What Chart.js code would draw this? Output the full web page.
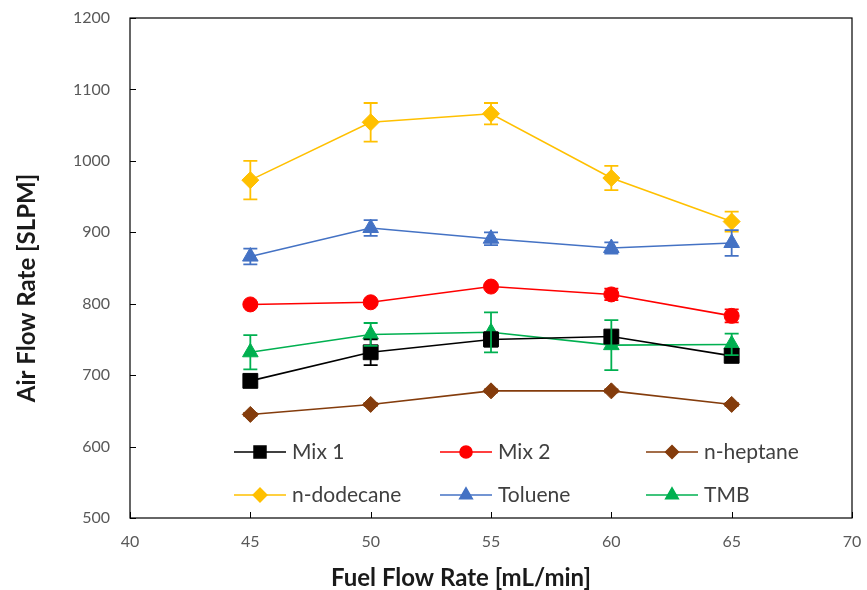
<!DOCTYPE html>
<html>
<head>
<meta charset="utf-8">
<script src="https://cdn.jsdelivr.net/npm/chart.js@4.4.1/dist/chart.umd.min.js"></script>
<style>
  html, body { margin: 0; padding: 0; background: #ffffff; }
  #wrap { width: 867px; height: 590px; }
</style>
</head>
<body>
<div id="wrap"><canvas id="chart" width="867" height="590"></canvas></div>
<script>
// Fuel flow rate (mL/min) and measured air flow rate (SLPM) per fuel
const fuelFlow = [45, 50, 55, 60, 65];

const mix1      = [692, 732, 750, 754, 727];
const mix2      = [799, 802, 824, 813, 783];
const heptane   = [645, 659, 678, 678, 659];
const dodecane  = [973, 1054, 1066, 976, 915];
const toluene   = [866, 906, 891, 878, 885];
const tmb       = [732, 757, 760, 742, 743];

// Error bar half-widths (SLPM)
const mix1Err     = [4, 18, 10, 6, 6];
const mix2Err     = [3, 3, 3, 8, 9];
const heptaneErr  = [2, 2, 2, 2, 2];
const dodecaneErr = [27, 27, 15, 17, 14];
const tolueneErr  = [11, 11, 9, 8, 18];
const tmbErr      = [24, 16, 28, 35, 15];

const seriesNames = ['Mix 1', 'Mix 2', 'n-heptane', 'n-dodecane', 'Toluene', 'TMB'];

const xTicks = [40, 45, 50, 55, 60, 65, 70];
const yTicks = [500, 600, 700, 800, 900, 1000, 1100, 1200];

const xTitle = 'Fuel Flow Rate [mL/min]';
const yTitle = 'Air Flow Rate [SLPM]';

const FONT = "Lato, 'Open Sans', sans-serif";

function pts(ys) {
  return fuelFlow.map((x, i) => ({ x: x, y: ys[i] }));
}

function series(label, ys, errs, color, style, radius) {
  return {
    label: label,
    data: pts(ys),
    errors: errs,
    borderColor: color,
    backgroundColor: color,
    pointBackgroundColor: color,
    pointBorderColor: color,
    pointStyle: style,
    pointRadius: radius,
    pointHoverRadius: radius,
    pointBorderWidth: 1,
    borderWidth: 1.6,
    tension: 0,
    fill: false
  };
}

const datasets = [
  series(seriesNames[0], mix1, mix1Err, '#000000', 'rect', 10.5),
  series(seriesNames[1], mix2, mix2Err, '#FF0000', 'circle', 7.5),
  series(seriesNames[2], heptane, heptaneErr, '#843C0C', 'rectRot', 8),
  series(seriesNames[3], dodecane, dodecaneErr, '#FFC000', 'rectRot', 8.5),
  series(seriesNames[4], toluene, tolueneErr, '#4472C4', 'triangle', 9),
  series(seriesNames[5], tmb, tmbErr, '#00B050', 'triangle', 9)
];

// Vertical error bars with caps, placed via the chart's own scales
const errorBars = {
  id: 'errorBars',
  afterDatasetsDraw(chart) {
    const ctx = chart.ctx;
    const xs = chart.scales.x, ys = chart.scales.y;
    chart.data.datasets.forEach(ds => {
      ctx.save();
      ctx.strokeStyle = ds.borderColor;
      ctx.lineWidth = 1.8;
      ds.data.forEach((p, i) => {
        const e = ds.errors[i];
        const px = xs.getPixelForValue(p.x);
        const top = ys.getPixelForValue(p.y + e);
        const bot = ys.getPixelForValue(p.y - e);
        ctx.beginPath();
        ctx.moveTo(px, top); ctx.lineTo(px, bot);
        ctx.moveTo(px - 7, top); ctx.lineTo(px + 7, top);
        ctx.moveTo(px - 7, bot); ctx.lineTo(px + 7, bot);
        ctx.stroke();
      });
      ctx.restore();
    });
  }
};

// Plot frame, inward tick marks and axis titles
const frame = {
  id: 'frame',
  afterDraw(chart) {
    const ctx = chart.ctx;
    const a = chart.chartArea;
    const xs = chart.scales.x, ys = chart.scales.y;
    ctx.save();
    ctx.strokeStyle = '#000000';
    ctx.lineWidth = 1.2;
    ctx.strokeRect(a.left, a.top, a.right - a.left, a.bottom - a.top);
    ctx.lineWidth = 1;
    ctx.beginPath();
    yTicks.forEach(v => {
      const py = Math.round(ys.getPixelForValue(v)) + 0.5;
      ctx.moveTo(a.left, py); ctx.lineTo(a.left + 6, py);
    });
    xTicks.forEach(v => {
      const px = Math.round(xs.getPixelForValue(v)) + 0.5;
      ctx.moveTo(px, a.bottom); ctx.lineTo(px, a.bottom - 6);
    });
    ctx.stroke();

    ctx.fillStyle = '#1a1a1a';
    ctx.font = "bold 24px " + FONT;
    ctx.textAlign = 'center';
    ctx.textBaseline = 'middle';
    ctx.fillText(xTitle, a.left + 331, a.bottom + 60);
    ctx.translate(27, a.top + 270);
    ctx.rotate(-Math.PI / 2);
    ctx.fillText(yTitle, 0, 0);
    ctx.restore();
  }
};

// Two-row legend drawn inside the plot area
const insideLegend = {
  id: 'insideLegend',
  afterDraw(chart) {
    const ctx = chart.ctx;
    const a = chart.chartArea;
    const cols = [a.left + 104, a.left + 310, a.left + 516];
    const rows = [a.bottom - 66, a.bottom - 23];
    ctx.save();
    chart.data.datasets.forEach((ds, i) => {
      const cx = cols[i % 3];
      const cy = rows[Math.floor(i / 3)];
      ctx.strokeStyle = ds.borderColor;
      ctx.lineWidth = 1.6;
      ctx.beginPath();
      ctx.moveTo(cx, cy); ctx.lineTo(cx + 52, cy);
      ctx.stroke();
      ctx.fillStyle = ds.backgroundColor;
      ctx.strokeStyle = ds.borderColor;
      Chart.helpers.drawPoint(ctx, {
        pointStyle: ds.pointStyle,
        radius: ds.pointRadius * 0.8,
        rotation: 0,
        borderWidth: 1
      }, cx + 26, cy);
      ctx.fillStyle = '#404040';
      ctx.font = "21px " + FONT;
      ctx.textBaseline = 'middle';
      ctx.textAlign = 'left';
      ctx.fillText(ds.label, cx + 58, cy);
    });
    ctx.restore();
  }
};

new Chart(document.getElementById('chart'), {
  type: 'line',
  data: { datasets: datasets },
  plugins: [errorBars, frame, insideLegend],
  options: {
    responsive: false,
    animation: false,
    layout: { padding: { top: 18, right: 15, left: 0, bottom: 0 } },
    plugins: {
      legend: { display: false },
      tooltip: { enabled: false }
    },
    scales: {
      x: {
        type: 'linear',
        min: 40, max: 70,
        afterBuildTicks(s) { s.ticks = xTicks.map(v => ({ value: v })); },
        afterFit(s) { s.height = 72; s.paddingLeft = 0; s.paddingRight = 0; },
        grid: { display: false, drawTicks: false },
        border: { display: false },
        ticks: {
          padding: 14,
          color: '#595959',
          font: { family: FONT, size: 16 },
          callback: v => String(v)
        },
        title: { display: false }
      },
      y: {
        type: 'linear',
        min: 500, max: 1200,
        afterBuildTicks(s) { s.ticks = yTicks.map(v => ({ value: v })); },
        afterFit(s) { s.width = 130; s.paddingTop = 0; s.paddingBottom = 0; },
        grid: { display: false, drawTicks: false },
        border: { display: false },
        ticks: {
          padding: 20,
          color: '#595959',
          font: { family: FONT, size: 16 },
          callback: v => String(v)
        },
        title: { display: false }
      }
    }
  }
});
</script>
</body>
</html>
